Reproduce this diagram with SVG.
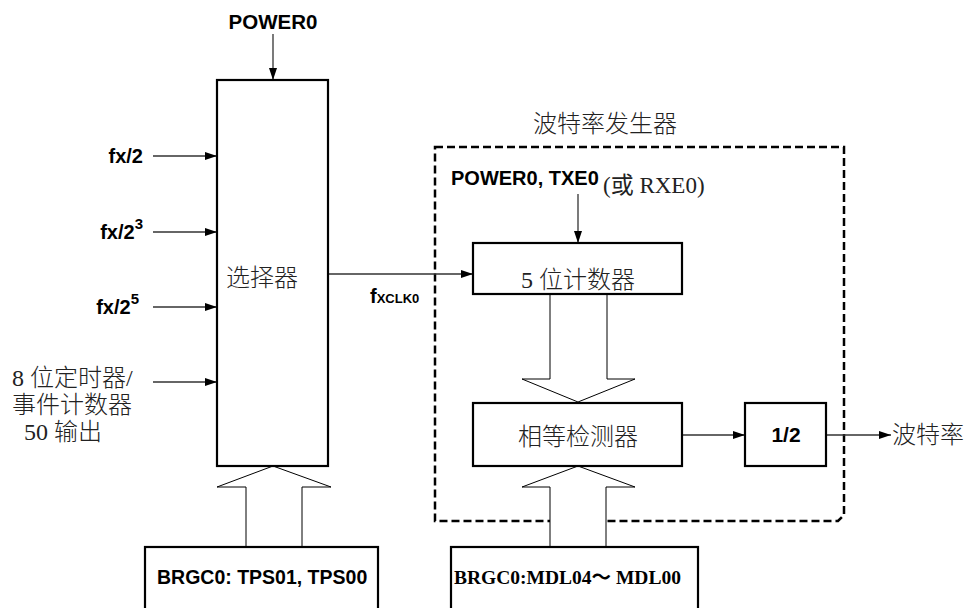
<svg xmlns="http://www.w3.org/2000/svg" width="965" height="608" viewBox="0 0 965 608">
<style>
.box{fill:#fff;stroke:#000;stroke-width:2.2}
.wire{fill:none;stroke:#333;stroke-width:1.3}
.bus{fill:#fff;stroke:#000;stroke-width:1}
.dash{fill:none;stroke:#000;stroke-width:2.5;stroke-dasharray:8 4}
.sans{font-family:"Liberation Sans",Arial,sans-serif;font-weight:bold;fill:#000}
.cjk{font-family:"Liberation Serif","Noto Sans CJK SC",serif;font-size:24px;fill:#222;font-weight:300}
.serifb{font-family:"Liberation Serif","Noto Sans CJK SC",serif;font-weight:bold;fill:#000}
</style>
<defs>
<marker id="ah" viewBox="0 0 12 8" refX="12" refY="4" markerWidth="12" markerHeight="8" markerUnits="userSpaceOnUse" orient="auto">
<path d="M0,0 L12,4 L0,8 Z" fill="#000"/>
</marker>
</defs>

<g id="brg-frame">
<path class="dash" d="M435,147 H844 V515 L838,521 H435 Z"/>
<text class="cjk" x="605" y="132" text-anchor="middle">波特率发生器</text>
</g>

<g id="connectors">
<line class="wire" x1="273" y1="34" x2="273" y2="80" marker-end="url(#ah)"/>
<line class="wire" x1="153" y1="156" x2="217" y2="156" marker-end="url(#ah)"/>
<line class="wire" x1="153" y1="232" x2="217" y2="232" marker-end="url(#ah)"/>
<line class="wire" x1="153" y1="307" x2="217" y2="307" marker-end="url(#ah)"/>
<line class="wire" x1="153" y1="382" x2="217" y2="382" marker-end="url(#ah)"/>
<line class="wire" x1="328" y1="274" x2="473" y2="274" marker-end="url(#ah)"/>
<line class="wire" x1="578" y1="194" x2="578" y2="243" marker-end="url(#ah)"/>
<line class="wire" x1="682" y1="435" x2="745" y2="435" marker-end="url(#ah)"/>
<line class="wire" x1="826" y1="435" x2="891" y2="435" marker-end="url(#ah)"/>
<polygon class="bus" points="246,547 246,487 217,487 273,466 331,487 302,487 302,547"/>
<polygon class="bus" points="550,294 550,379 522,379 578,402 635,379 607,379 607,294"/>
<polygon class="bus" points="550,547 550,487 522,487 578,466 635,487 606,487 606,547"/>
</g>

<g id="labels">
<text class="sans" x="273" y="29" font-size="20.5" text-anchor="middle">POWER0</text>
<text class="sans" x="143" y="163" font-size="20" text-anchor="end">fx/2</text>
<text class="sans" x="143" y="239" font-size="20" text-anchor="end">fx/2<tspan font-size="15" dy="-10">3</tspan></text>
<text class="sans" x="139" y="314" font-size="20" text-anchor="end">fx/2<tspan font-size="15" dy="-10">5</tspan></text>
<text class="cjk" x="12" y="386">8 位定时器/</text>
<text class="cjk" x="12" y="413">事件计数器</text>
<text class="cjk" x="24" y="440">50 输出</text>
<text class="sans" x="370" y="303" font-size="20">f<tspan font-size="13">XCLK0</tspan></text>
<text x="451" y="185" class="sans" font-size="20">POWER0, TXE0</text>
<text x="603" y="193" font-family="Liberation Serif,'Noto Sans CJK SC',serif" font-size="23" fill="#222">(或 RXE0)</text>
<text class="cjk" x="892" y="443">波特率</text>
</g>

<g id="selector">
<rect class="box" x="217" y="80" width="111" height="386"/>
<text class="cjk" x="262" y="286" text-anchor="middle">选择器</text>
</g>

<g id="counter5">
<rect class="box" x="473" y="243" width="209" height="51"/>
<text class="cjk" x="578" y="288" text-anchor="middle">5 位计数器</text>
</g>

<g id="comparator">
<rect class="box" x="473" y="403" width="209" height="63"/>
<text class="cjk" x="578" y="445" text-anchor="middle">相等检测器</text>
</g>

<g id="half">
<rect class="box" x="745" y="403" width="81" height="63"/>
<text class="sans" x="786" y="442" font-size="21" text-anchor="middle">1/2</text>
</g>

<g id="brgc-tps">
<rect class="box" x="145" y="547" width="233" height="80"/>
<text class="sans" x="157" y="584" font-size="19.5">BRGC0: TPS01, TPS00</text>
</g>

<g id="brgc-mdl">
<rect class="box" x="451" y="547" width="247" height="80"/>
<text class="serifb" x="454" y="584" font-size="19.5">BRGC0:MDL04～ MDL00</text>
</g>
</svg>
